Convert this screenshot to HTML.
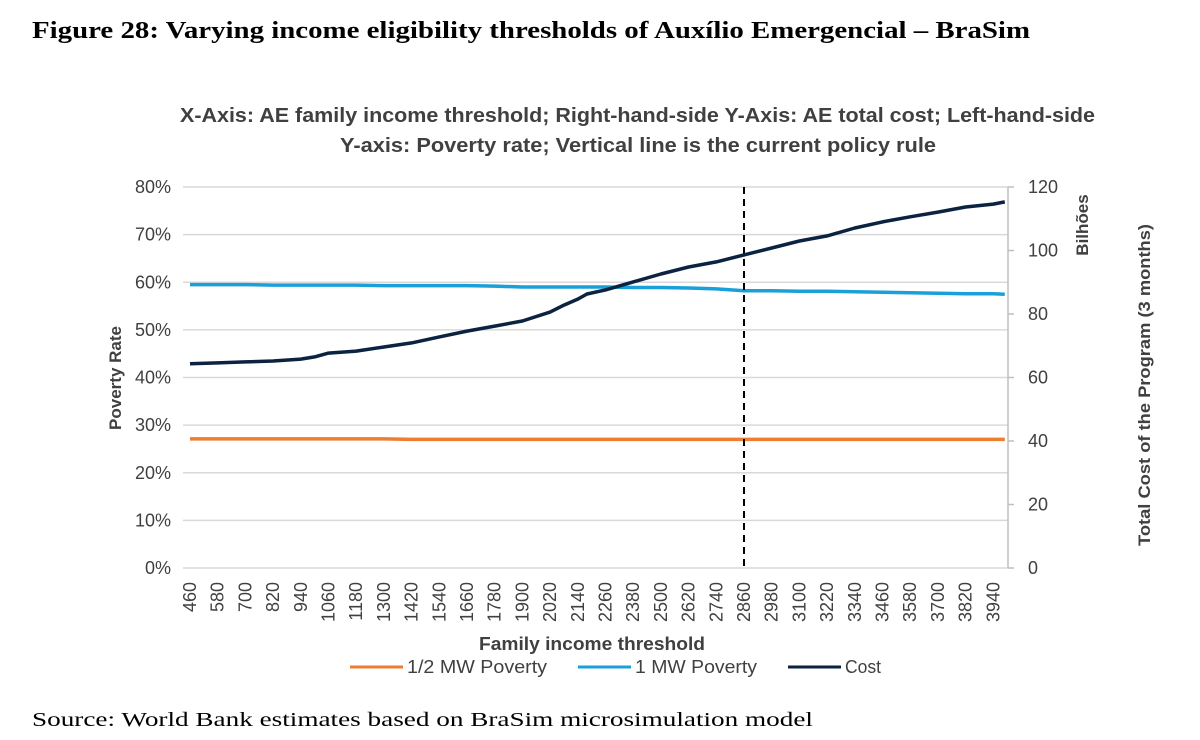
<!DOCTYPE html>
<html><head><meta charset="utf-8"><style>
body{margin:0;background:#fff;width:1200px;height:735px;overflow:hidden}
svg text{font-family:"Liberation Sans",sans-serif}
</style></head><body>
<svg id="chart" width="1200" height="735" viewBox="0 0 1200 735" xmlns="http://www.w3.org/2000/svg">
<text x="32" y="38" font-weight="bold" font-size="24" fill="#000" textLength="998" lengthAdjust="spacingAndGlyphs" style="font-family:'Liberation Serif',serif">Figure 28: Varying income eligibility thresholds of Auxílio Emergencial – BraSim</text>
<text x="180" y="122" font-weight="bold" font-size="20" fill="#404040" textLength="915" lengthAdjust="spacingAndGlyphs">X-Axis: AE family income threshold; Right-hand-side Y-Axis: AE total cost; Left-hand-side</text>
<text x="340" y="152" font-weight="bold" font-size="20" fill="#404040" textLength="596" lengthAdjust="spacingAndGlyphs">Y-axis: Poverty rate; Vertical line is the current policy rule</text>
<g id="grid"></g><g id="axes"></g><g id="series"></g>
<text transform="translate(121,378) rotate(-90)" text-anchor="middle" font-weight="bold" font-size="17" fill="#404040">Poverty Rate</text>
<text transform="translate(1088,225) rotate(-90)" text-anchor="middle" font-weight="bold" font-size="17" fill="#404040">Bilhões</text>
<text transform="translate(1150,385) rotate(-90)" text-anchor="middle" font-weight="bold" font-size="17" fill="#404040" textLength="322" lengthAdjust="spacingAndGlyphs">Total Cost of the Program (3 months)</text>
<text x="592" y="650" text-anchor="middle" font-weight="bold" font-size="18" fill="#404040" textLength="226" lengthAdjust="spacingAndGlyphs">Family income threshold</text>
<g font-size="18" fill="#404040">
<line x1="350" y1="667" x2="403" y2="667" stroke="#ED7D31" stroke-width="3"/><text x="407" y="673" textLength="140" lengthAdjust="spacingAndGlyphs">1/2 MW Poverty</text>
<line x1="578" y1="667" x2="631" y2="667" stroke="#1AA0D8" stroke-width="3"/><text x="635" y="673" textLength="122" lengthAdjust="spacingAndGlyphs">1 MW Poverty</text>
<line x1="788" y1="667" x2="841" y2="667" stroke="#0B2341" stroke-width="3"/><text x="845" y="673" textLength="36" lengthAdjust="spacingAndGlyphs">Cost</text>
</g>
<text x="32" y="726" font-size="20" fill="#000" textLength="781" lengthAdjust="spacingAndGlyphs" style="font-family:'Liberation Serif',serif">Source: World Bank estimates based on BraSim microsimulation model</text>
</svg>
<script>
const thresholds=[460,580,700,820,940,1000,1060,1180,1300,1420,1540,1660,1780,1900,2020,2080,2140,2180,2260,2380,2500,2620,2740,2860,2980,3100,3220,3340,3460,3580,3700,3820,3940,3990];
const cost=[64.3,64.6,64.9,65.2,65.8,66.5,67.7,68.3,69.6,70.9,72.8,74.6,76.2,77.8,80.6,82.8,84.7,86.3,87.6,90.1,92.6,94.8,96.4,98.6,100.8,103,104.6,107.1,109,110.6,112.1,113.7,114.6,115.3];
const oneMW=[59.5,59.5,59.5,59.4,59.4,59.4,59.4,59.4,59.3,59.3,59.3,59.3,59.2,59.0,59.0,59.0,59.0,59.0,59.0,58.9,58.9,58.8,58.6,58.2,58.2,58.1,58.1,58.0,57.9,57.8,57.7,57.6,57.6,57.5];
const halfMW=[27.1,27.1,27.1,27.1,27.1,27.1,27.1,27.1,27.1,27.0,27.0,27.0,27.0,27.0,27.0,27.0,27.0,27.0,27.0,27.0,27.0,27.0,27.0,27.0,27.0,27.0,27.0,27.0,27.0,27.0,27.0,27.0,27.0,27.0];
const leftTicks=[0,10,20,30,40,50,60,70,80];
const rightTicks=[0,20,40,60,80,100,120];
const xLabels=[460,580,700,820,940,1060,1180,1300,1420,1540,1660,1780,1900,2020,2140,2260,2380,2500,2620,2740,2860,2980,3100,3220,3340,3460,3580,3700,3820,3940];
const policy=2860;
const NS="http://www.w3.org/2000/svg";
const X0=183,X1=1008,Y0=568,Y1=187;
const xs=t=>190+(t-460)/120*27.7;
const yl=v=>Y0-(v/80)*(Y0-Y1);
const yr=v=>Y0-(v/120)*(Y0-Y1);
function mk(tag,attrs,parent,txt){const e=document.createElementNS(NS,tag);for(const k in attrs)e.setAttribute(k,attrs[k]);if(txt!==undefined)e.textContent=txt;parent.appendChild(e);return e;}
const grid=document.getElementById('grid'),axes=document.getElementById('axes'),ser=document.getElementById('series');
leftTicks.forEach(v=>{
 const l=mk('line',{x1:X0,x2:X1,y1:yl(v),y2:yl(v),stroke:'#d9d9d9','stroke-width':1.5},grid);
 
 
 const t=mk('text',{x:X0-12,y:yl(v)+6,'text-anchor':'end','font-size':18,fill:'#404040'},axes,v+'%');
 
 
});
mk('line',{x1:X1,x2:X1,y1:Y1,y2:Y0,stroke:'#bfbfbf','stroke-width':1.5},axes);
rightTicks.forEach(v=>{
 mk('line',{x1:X1,x2:X1+6,y1:yr(v),y2:yr(v),stroke:'#bfbfbf','stroke-width':1.5},axes);
 const t=mk('text',{x:X1+20,y:yr(v)+6,'font-size':18,fill:'#404040'},axes,v);
 
 
});
xLabels.forEach(v=>{
 const x=xs(v);
 const t=mk('text',{transform:`translate(${x+6},582) rotate(-90)`,'text-anchor':'end','font-size':18,fill:'#404040'},axes,v);
 
 
});
function line(arr,ys,color,name){
 const d=arr.map((v,i)=>(i?'L':'M')+xs(thresholds[i]).toFixed(1)+','+ys(v).toFixed(1)).join('');
 const p=mk('path',{d:d,fill:'none',stroke:color,'stroke-width':3.5,'stroke-linejoin':'round'},ser);
 
 
}
line(halfMW,yl,'#ED7D31','half-mw-poverty-line');
line(oneMW,yl,'#1AA0D8','one-mw-poverty-line');
const pl=mk('line',{x1:xs(policy),x2:xs(policy),y1:Y1,y2:Y0+2,stroke:'#000','stroke-width':2,'stroke-dasharray':'7,5'},ser);


line(cost,yr,'#0B2341','cost-line');
</script>
</body></html>
